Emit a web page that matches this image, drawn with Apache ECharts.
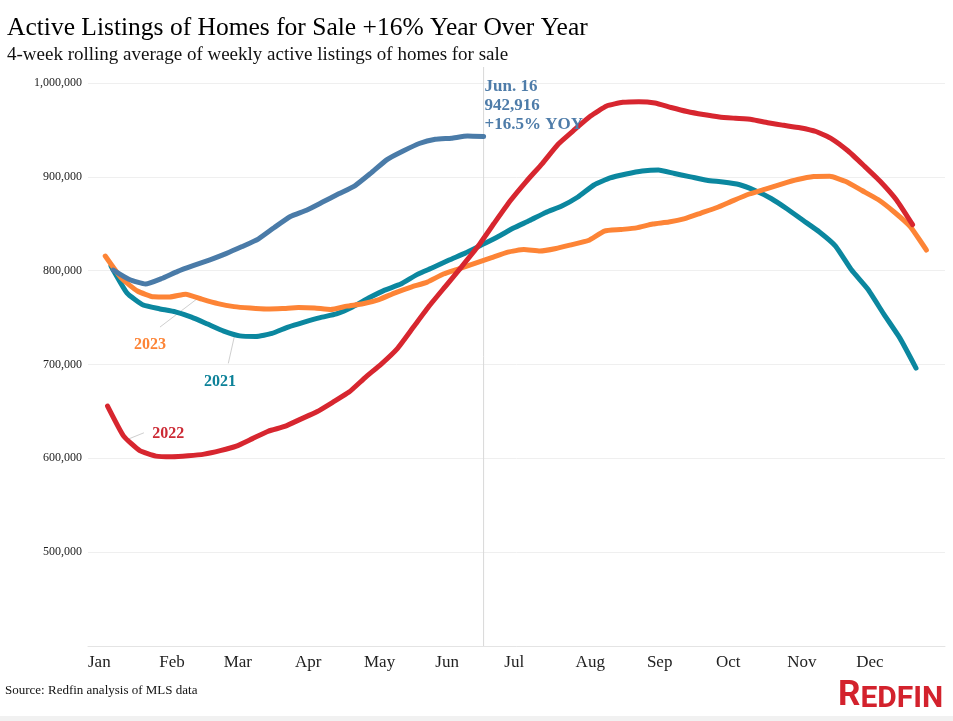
<!DOCTYPE html>
<html>
<head>
<meta charset="utf-8">
<title>Active Listings of Homes for Sale</title>
<script src="https://cdn.jsdelivr.net/npm/echarts@6/dist/echarts.min.js"></script>
<style>
  html, body { margin: 0; padding: 0; background: #fff; }
  #chart { width: 953px; height: 721px; }
</style>
</head>
<body>
<div id="chart"></div>
<script>
// month labels on the shared day-of-year axis
const monthNames = ['Jan', 'Feb', 'Mar', 'Apr', 'May', 'Jun', 'Jul', 'Aug', 'Sep', 'Oct', 'Nov', 'Dec'];
const monthStartDays = [0, 31, 59, 90, 120, 151, 181, 212, 243, 273, 304, 334];

// first week of each year on the shared axis (day of year), one point per week
const startDay2021 = 10;
const startDay2022 = 8.5;
const startDay2023 = 7.5;
const startDay2024 = 11;

// 4-week rolling average of weekly active listings
const listings2021 = [
    805000, 776000, 763300, 759400, 756100, 750500, 743100, 735600, 730500, 729900,
    733100, 739900, 745200, 750000, 753900, 761200, 770800, 779300, 785700, 795800,
    803300, 811300, 818700, 827300, 835800, 845400, 853400, 862000, 868900, 878500,
    891300, 898800, 903000, 906200, 907300, 903500, 900000, 896300, 894500, 891800,
    885400, 876900, 865700, 853400, 841200, 826200, 800600, 780400, 753700, 728100,
    696200
];
const listings2022 = [
    655700, 623700, 608200, 602400, 601700, 602700, 604500, 608200, 613000, 621000,
    629000, 634000, 641800, 649600, 659900, 670600, 686100, 700500, 717000, 739900,
    762800, 783600, 804400, 825700, 850200, 874200, 895000, 914200, 935000, 950200,
    964800, 975500, 979400, 980100, 978700, 973900, 969600, 966400, 963800, 962400,
    961100, 957600, 954900, 952300, 948300, 940300, 927500, 911500, 895000, 875300,
    849000
];
const listings2023 = [
    815600, 792100, 778300, 772100, 771900, 775000, 769700, 764900, 761700, 760100,
    759100, 759600, 760700, 760200, 758600, 762200, 764700, 769200, 776400, 782500,
    787800, 796400, 802200, 808100, 814000, 819800, 822500, 820900, 823600, 827800,
    832100, 842200, 843800, 845600, 849700, 851800, 855500, 861400, 867300, 874700,
    881700, 887000, 892300, 897100, 900300, 900600, 895000, 885400, 875800, 862500,
    847000, 822000
];
const listings2024 = [
    800600, 790500, 785700, 791600, 799300, 805600, 811600, 818200, 825700, 833700,
    846000, 857700, 864400, 873100, 881900, 890400, 904000, 918400, 927500, 935500,
    940000, 941200, 943500, 942916
];

const colors = {
    y2021: '#0b879f',
    y2022: '#d7262f',
    y2023: '#fd8436',
    y2024: '#4a7ba8',
    grid: '#efefef',
    leader: '#cfcfcf',
    text: '#222'
};
const serif = '"Liberation Serif", "Times New Roman", serif';

function weekly(startDay, values) {
    return values.map((v, i) => [startDay + 7 * i, v]);
}

function withCommas(v) {
    return String(Math.round(v)).replace(/\B(?=(\d{3})+(?!\d))/g, ',');
}

function lineSeries(name, color, startDay, values) {
    return {
        name: name,
        type: 'line',
        data: weekly(startDay, values),
        symbol: 'none',
        smooth: 0.15,
        lineStyle: { color: color, width: 5, cap: 'round', join: 'round' },
        emphasis: { disabled: true }
    };
}

const chart = echarts.init(document.getElementById('chart'));

const option = {
    animation: false,
    backgroundColor: '#fff',
    title: {
        text: 'Active Listings of Homes for Sale +16% Year Over Year',
        subtext: '4-week rolling average of weekly active listings of homes for sale',
        left: 2,
        top: 10,
        itemGap: 5,
        textStyle: { fontFamily: serif, fontWeight: 'normal', fontSize: 25.5, color: '#000' },
        subtextStyle: { fontFamily: serif, fontSize: 19, color: '#111' }
    },
    grid: { left: 88, right: 8, top: 83, bottom: 75 },
    xAxis: {
        type: 'value',
        min: 0,
        max: 372.6,
        axisLine: { show: true, lineStyle: { color: '#e4e4e4' } },
        axisTick: { show: false },
        splitLine: { show: false },
        axisLabel: {
            customValues: monthStartDays,
            align: 'left',
            margin: 8,
            fontFamily: serif,
            fontSize: 17,
            color: colors.text,
            formatter: v => monthNames[monthStartDays.indexOf(v)] || ''
        }
    },
    yAxis: {
        type: 'value',
        min: 400000,
        max: 1000000,
        interval: 100000,
        axisLine: { show: false },
        axisTick: { show: false },
        splitLine: { lineStyle: { color: colors.grid } },
        axisLabel: {
            showMinLabel: false,
            margin: 6,
            fontFamily: serif,
            fontSize: 12,
            color: colors.text,
            formatter: withCommas
        }
    },
    series: [
        lineSeries('2021', colors.y2021, startDay2021, listings2021),
        lineSeries('2023', colors.y2023, startDay2023, listings2023),
        lineSeries('2022', colors.y2022, startDay2022, listings2022),
        lineSeries('2024', colors.y2024, startDay2024, listings2024)
    ]
};

chart.setOption(option);

// annotations placed in data space through the axes
const px = (d, v) => chart.convertToPixel({ gridIndex: 0 }, [d, v]);
const lastDay2024 = startDay2024 + 7 * (listings2024.length - 1);
const lastValue2024 = listings2024[listings2024.length - 1];
const markTop = px(lastDay2024, 1000000);
const markBottom = px(lastDay2024, 400000);

function yearLabel(text, color, at, from, to) {
    const p = px(at[0], at[1]);
    const a = px(from[0], from[1]);
    const b = px(to[0], to[1]);
    return [
        {
            type: 'line', z: 1, silent: true,
            shape: { x1: a[0], y1: a[1], x2: b[0], y2: b[1] },
            style: { stroke: colors.leader, lineWidth: 1 }
        },
        {
            type: 'text', z: 10, silent: true, x: p[0], y: p[1],
            style: {
                text: text, fill: color, align: 'center', verticalAlign: 'middle',
                font: 'bold 16px ' + serif
            }
        }
    ];
}

const graphics = [
    {
        type: 'line', z: 0, silent: true,
        shape: { x1: markTop[0], y1: markTop[1] - 16, x2: markBottom[0], y2: markBottom[1] },
        style: { stroke: '#d8d8d8', lineWidth: 1 }
    },
    {
        type: 'text', z: 10, silent: true, x: markTop[0] + 1, y: markTop[1] - 6,
        style: {
            text: 'Jun. 16\n' + withCommas(lastValue2024) + '\n+16.5% YOY',
            fill: '#4e7ca9',
            font: 'bold 17px ' + serif,
            lineHeight: 19,
            align: 'left',
            verticalAlign: 'top'
        }
    },
    ...yearLabel('2023', colors.y2023, [27, 720700], [31.3, 739900], [47.7, 770500]),
    ...yearLabel('2021', '#0d8299', [57.4, 681600], [61, 701200], [63.6, 729600]),
    ...yearLabel('2022', '#cc2a35', [34.9, 626500], [17.5, 620500], [24.3, 627200]),
    {
        type: 'text', silent: true, left: 5, top: 684,
        style: { text: 'Source: Redfin analysis of MLS data', fill: '#111', font: '13px ' + serif }
    },
    {
        type: 'text', silent: true, left: 838, top: 679,
        style: {
            text: '{r|R}{e|EDFIN}',
            fill: '#d3222d',
            rich: {
                r: { fontFamily: 'Roboto', fontWeight: 'bold', fontSize: 35, lineHeight: 35, verticalAlign: 'bottom', fill: '#d3222d' },
                e: { fontFamily: 'Roboto', fontWeight: 'bold', fontSize: 30, lineHeight: 35, verticalAlign: 'bottom', fill: '#d3222d' }
            }
        }
    },
    {
        type: 'rect', silent: true,
        shape: { x: 0, y: 716, width: 953, height: 5 },
        style: { fill: '#f1f1f1' }
    }
];

chart.setOption({ graphic: graphics });
</script>
</body>
</html>
